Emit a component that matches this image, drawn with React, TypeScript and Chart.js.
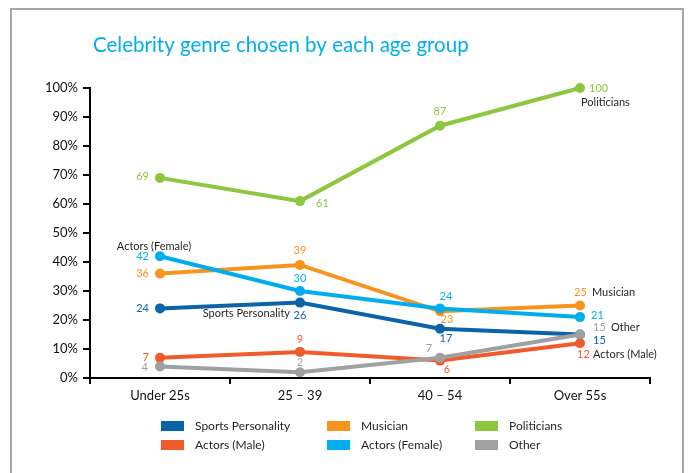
import React, { useEffect, useRef } from 'react';
import { Chart, registerables } from 'chart.js';

Chart.register(...registerables);

const categories = ['Under 25s', '25 – 39', '40 – 54', 'Over 55s'];

const sportsPersonality = [24, 26, 17, 15];
const actorsMale = [7, 9, 6, 12];
const musician = [36, 39, 23, 25];
const actorsFemale = [42, 30, 24, 21];
const politicians = [69, 61, 87, 100];
const other = [4, 2, 7, 15];

const yMin = 0;
const yMax = 100;
const yStep = 10;

const titleText = 'Celebrity genre chosen by each age group';

const COLORS = {
  sports: '#0b64a9',
  actorsMale: '#f15a29',
  musician: '#f7941e',
  actorsFemale: '#00aeef',
  politicians: '#8dc63f',
  other: '#a0a0a0',
};

// label placement per point: [dx, dy, align]
type Place = [number, number, CanvasTextAlign];
const series: { key: string; label: string; data: number[]; color: string; places: Place[] }[] = [
  { key: 'other', label: 'Other', data: other, color: COLORS.other,
    places: [[-12, 1, 'right'], [0, -10, 'center'], [-11, -9, 'center'], [13, -7, 'left']] },
  { key: 'actorsFemale', label: 'Actors (Female)', data: actorsFemale, color: COLORS.actorsFemale,
    places: [[-11, 0, 'right'], [0, -13, 'center'], [6, -12, 'center'], [11, -2, 'left']] },
  { key: 'sports', label: 'Sports Personality', data: sportsPersonality, color: COLORS.sports,
    places: [[-11, 0, 'right'], [0, 13, 'center'], [6, 10, 'center'], [13, 6, 'left']] },
  { key: 'musician', label: 'Musician', data: musician, color: COLORS.musician,
    places: [[-11, 0, 'right'], [0, -14, 'center'], [7, 8, 'center'], [-6, -13, 'left']] },
  { key: 'actorsMale', label: 'Actors (Male)', data: actorsMale, color: COLORS.actorsMale,
    places: [[-11, 0, 'right'], [0, -12, 'center'], [7, 9, 'center'], [-3, 11, 'left']] },
  { key: 'politicians', label: 'Politicians', data: politicians, color: COLORS.politicians,
    places: [[-11, -1, 'right'], [16, 2, 'left'], [0, -14, 'center'], [9, 0, 'left']] },
];

const nameTags: { key: string; index: number; text: string; dx: number; dy: number; align: CanvasTextAlign }[] = [
  { key: 'actorsFemale', index: 0, text: 'Actors (Female)', dx: -6, dy: -10, align: 'center' },
  { key: 'sports', index: 1, text: 'Sports Personality', dx: -10, dy: 11, align: 'right' },
  { key: 'politicians', index: 3, text: 'Politicians', dx: 1, dy: 14, align: 'left' },
  { key: 'musician', index: 3, text: 'Musician', dx: 12, dy: -13, align: 'left' },
  { key: 'other', index: 3, text: 'Other', dx: 31, dy: -7, align: 'left' },
  { key: 'actorsMale', index: 3, text: 'Actors (Male)', dx: 13, dy: 11, align: 'left' },
];

const legendRows = [
  ['sports', 'musician', 'politicians'],
  ['actorsMale', 'actorsFemale', 'other'],
];
const legendColX = [161, 327, 475];
const legendRowY = [426, 445];

const FONT = 'Lato, "Open Sans", sans-serif';

const decorPlugin = {
  id: 'decor',
  beforeDraw(chart: any) {
    const ctx = chart.ctx;
    ctx.save();
    ctx.fillStyle = '#ffffff';
    ctx.fillRect(0, 0, chart.width, chart.height);
    ctx.strokeStyle = '#a6a6a6';
    ctx.lineWidth = 2;
    ctx.beginPath();
    ctx.moveTo(11, 473);
    ctx.lineTo(11, 9);
    ctx.lineTo(683, 9);
    ctx.lineTo(683, 473);
    ctx.stroke();
    ctx.fillStyle = '#00aeef';
    ctx.font = `20.5px ${FONT}`;
    ctx.textAlign = 'left';
    ctx.textBaseline = 'middle';
    ctx.fillText(titleText, 93, 45);
    ctx.restore();
  },
  afterDatasetsDraw(chart: any) {
    const ctx = chart.ctx;
    ctx.save();
    ctx.textBaseline = 'middle';
    const byKey: Record<string, number> = {};
    series.forEach((s, i) => {
      byKey[s.key] = i;
      const meta = chart.getDatasetMeta(i);
      ctx.font = `11px ${FONT}`;
      ctx.fillStyle = s.color;
      meta.data.forEach((pt: any, j: number) => {
        const [dx, dy, align] = s.places[j];
        ctx.textAlign = align;
        ctx.fillText(String(s.data[j]), pt.x + dx, pt.y + dy);
      });
    });
    ctx.fillStyle = '#231f20';
    ctx.font = `11px ${FONT}`;
    nameTags.forEach((t) => {
      const meta = chart.getDatasetMeta(byKey[t.key]);
      const pt = meta.data[t.index];
      ctx.textAlign = t.align;
      ctx.fillText(t.text, pt.x + t.dx, pt.y + t.dy);
    });
    // legend
    ctx.font = `12px ${FONT}`;
    ctx.textAlign = 'left';
    legendRows.forEach((row, r) => {
      row.forEach((key, c) => {
        const s = series[byKey[key]];
        const x = legendColX[c];
        const y = legendRowY[r];
        ctx.fillStyle = s.color;
        ctx.fillRect(x, y - 5, 23, 10);
        ctx.fillStyle = '#231f20';
        ctx.fillText(s.label, x + 34, y);
      });
    });
    ctx.restore();
  },
};

export default function App() {
  const canvasRef = useRef<HTMLCanvasElement | null>(null);

  useEffect(() => {
    if (!canvasRef.current) return;
    const chart = new Chart(canvasRef.current, {
      type: 'line',
      data: {
        labels: categories,
        datasets: series.map((s) => ({
          label: s.label,
          data: s.data,
          borderColor: s.color,
          backgroundColor: s.color,
          pointBackgroundColor: s.color,
          pointBorderWidth: 0,
          pointRadius: 5,
          borderWidth: 4,
          tension: 0,
          clip: false as any,
        })),
      },
      options: {
        animation: false,
        responsive: false,
        devicePixelRatio: 1,
        layout: { padding: { left: 0, right: 38, top: 88, bottom: 0 } },
        plugins: {
          legend: { display: false },
          title: { display: false },
          tooltip: { enabled: false },
        },
        scales: {
          x: {
            type: 'category',
            offset: true,
            afterFit: (scale: any) => { scale.height = 95; },
            grid: {
              offset: true,
              drawOnChartArea: false,
              drawTicks: true,
              tickLength: 6,
              color: '#000000',
              lineWidth: 2,
            },
            border: { display: true, color: '#000000', width: 2 },
            ticks: {
              color: '#111111',
              font: { family: FONT, size: 13 },
              padding: 4,
              maxRotation: 0,
            },
          },
          y: {
            min: yMin,
            max: yMax,
            afterFit: (scale: any) => { scale.width = 90; },
            grid: {
              drawOnChartArea: false,
              drawTicks: true,
              tickLength: 7,
              color: '#000000',
              lineWidth: 2,
            },
            border: { display: true, color: '#000000', width: 2 },
            ticks: {
              stepSize: yStep,
              color: '#111111',
              font: { family: FONT, size: 13 },
              padding: 5,
              callback: (v: any) => `${v}%`,
            },
          },
        },
      },
      plugins: [decorPlugin],
    });
    return () => chart.destroy();
  }, []);

  return (
    <div style={{ position: 'fixed', left: 0, top: 0, width: 688, height: 473, background: '#fff' }}>
      <canvas ref={canvasRef} width={688} height={473} style={{ display: 'block' }} />
    </div>
  );
}
